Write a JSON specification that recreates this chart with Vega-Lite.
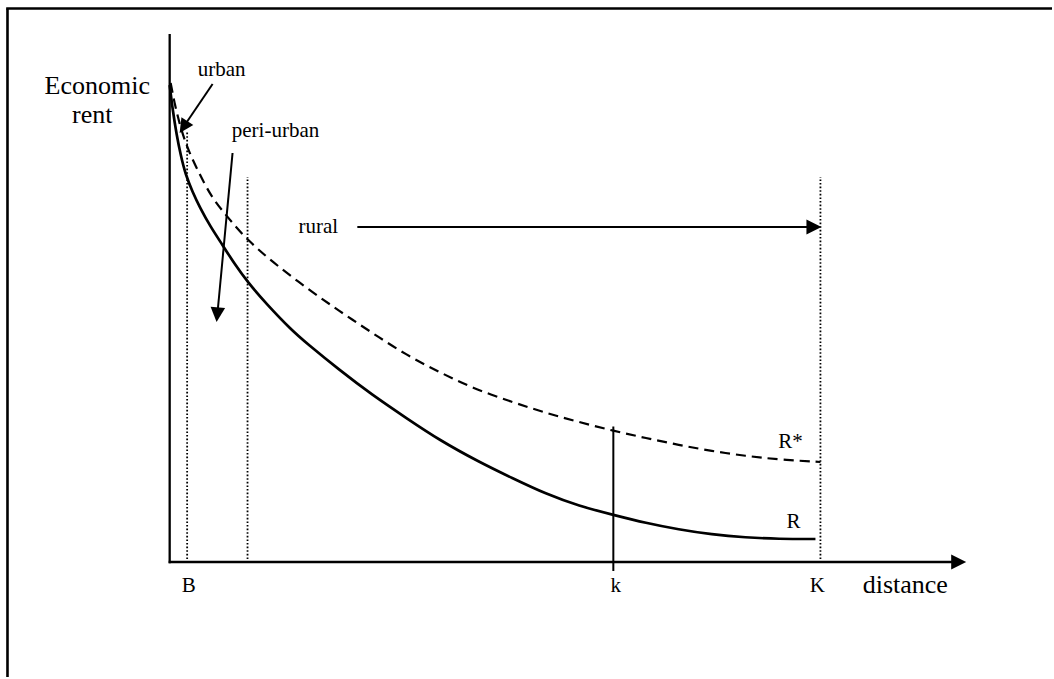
{
  "$schema": "https://vega.github.io/schema/vega-lite/v6.json",
  "width": 1054,
  "height": 679,
  "autosize": {"type": "fit", "contains": "padding"},
  "padding": 0,
  "background": "white",
  "config": {"view": {"stroke": null}},
  "datasets": {
    "frame": [
      {"x": -162.5, "y": -115, "x2": -162.5, "y2": 553.5},
      {"x": -163.8, "y": 553.5, "x2": 884, "y2": 553.5}
    ],
    "axes": [
      {"x": 0, "y": -1.2, "x2": 0, "y2": 528},
      {"x": -1, "y": 0, "x2": 786, "y2": 0}
    ],
    "dotted": [
      {"x": 17.5, "y": 3, "x2": 17.5, "y2": 430},
      {"x": 78, "y": 3, "x2": 78, "y2": 385},
      {"x": 652, "y": 3, "x2": 652, "y2": 385}
    ],
    "kline": [
      {"x": 444.5, "y": -9, "x2": 444.5, "y2": 135.5}
    ],
    "shafts": [
      {"x": 188, "y": 335, "x2": 641, "y2": 335},
      {"x": 43, "y": 478, "x2": 15.5, "y2": 437.5},
      {"x": 63, "y": 409, "x2": 48, "y2": 250}
    ],
    "headsH": [
      {"x": 798, "y": 0},
      {"x": 653, "y": 335}
    ],
    "headUrban": [{"x": 10, "y": 429}],
    "headPeri": [{"x": 47, "y": 240}],
    "curves": [
      {"series": "R", "d": 0, "rent": 477},
      {"series": "R", "d": 3, "rent": 452},
      {"series": "R", "d": 7, "rent": 427},
      {"series": "R", "d": 11, "rent": 407},
      {"series": "R", "d": 16, "rent": 387},
      {"series": "R", "d": 23, "rent": 370},
      {"series": "R", "d": 30, "rent": 355},
      {"series": "R", "d": 41, "rent": 335},
      {"series": "R", "d": 53, "rent": 317},
      {"series": "R", "d": 65, "rent": 298},
      {"series": "R", "d": 78, "rent": 280},
      {"series": "R", "d": 97, "rent": 258},
      {"series": "R", "d": 123, "rent": 231},
      {"series": "R", "d": 137, "rent": 219},
      {"series": "R", "d": 170, "rent": 192},
      {"series": "R", "d": 203, "rent": 167},
      {"series": "R", "d": 237, "rent": 144},
      {"series": "R", "d": 270, "rent": 122},
      {"series": "R", "d": 310, "rent": 100},
      {"series": "R", "d": 343, "rent": 84},
      {"series": "R", "d": 377, "rent": 68},
      {"series": "R", "d": 410, "rent": 56},
      {"series": "R", "d": 445, "rent": 47},
      {"series": "R", "d": 477, "rent": 39},
      {"series": "R", "d": 510, "rent": 32.5},
      {"series": "R", "d": 543, "rent": 27.5},
      {"series": "R", "d": 577, "rent": 24.5},
      {"series": "R", "d": 610, "rent": 23},
      {"series": "R", "d": 647, "rent": 23},
      {"series": "R*", "d": 1, "rent": 479},
      {"series": "R*", "d": 5, "rent": 458},
      {"series": "R*", "d": 10, "rent": 438},
      {"series": "R*", "d": 15, "rent": 422},
      {"series": "R*", "d": 20, "rent": 409},
      {"series": "R*", "d": 27, "rent": 394},
      {"series": "R*", "d": 35, "rent": 378},
      {"series": "R*", "d": 43, "rent": 364},
      {"series": "R*", "d": 53, "rent": 351},
      {"series": "R*", "d": 63, "rent": 339},
      {"series": "R*", "d": 78, "rent": 322},
      {"series": "R*", "d": 103, "rent": 300},
      {"series": "R*", "d": 137, "rent": 274},
      {"series": "R*", "d": 170, "rent": 251},
      {"series": "R*", "d": 203, "rent": 229},
      {"series": "R*", "d": 237, "rent": 207},
      {"series": "R*", "d": 270, "rent": 190},
      {"series": "R*", "d": 303, "rent": 174},
      {"series": "R*", "d": 343, "rent": 160},
      {"series": "R*", "d": 377, "rent": 149},
      {"series": "R*", "d": 410, "rent": 140},
      {"series": "R*", "d": 445, "rent": 131},
      {"series": "R*", "d": 477, "rent": 124},
      {"series": "R*", "d": 510, "rent": 117},
      {"series": "R*", "d": 543, "rent": 111},
      {"series": "R*", "d": 577, "rent": 106},
      {"series": "R*", "d": 610, "rent": 102.5},
      {"series": "R*", "d": 652, "rent": 100}
    ],
    "bigText": [
      {"label": "Economic", "x": -72.5, "y": 468},
      {"label": "rent", "x": -77.5, "y": 439},
      {"label": "distance", "x": 737, "y": -31}
    ],
    "smallText": [
      {"label": "urban", "x": 52, "y": 486},
      {"label": "peri-urban", "x": 106, "y": 425},
      {"label": "rural", "x": 149, "y": 329},
      {"label": "R*", "x": 622, "y": 114},
      {"label": "R", "x": 625, "y": 34},
      {"label": "B", "x": 19, "y": -30},
      {"label": "k", "x": 447, "y": -30},
      {"label": "K", "x": 649, "y": -30}
    ]
  },
  "layer": [
    {
      "data": {"name": "frame"},
      "mark": {"type": "rule", "color": "black", "strokeWidth": 2.6},
      "encoding": {
        "x": {"field": "x", "type": "quantitative", "scale": {"domain": [-170, 884], "nice": false, "zero": false}, "axis": null},
        "x2": {"field": "x2"},
        "y": {"field": "y", "type": "quantitative", "scale": {"domain": [-117, 562], "nice": false, "zero": false}, "axis": null},
        "y2": {"field": "y2"}
      }
    },
    {
      "data": {"name": "axes"},
      "mark": {"type": "rule", "color": "black", "strokeWidth": 2.3},
      "encoding": {
        "x": {"field": "x", "type": "quantitative", "scale": {"domain": [-170, 884], "nice": false, "zero": false}, "axis": null},
        "x2": {"field": "x2"},
        "y": {"field": "y", "type": "quantitative", "scale": {"domain": [-117, 562], "nice": false, "zero": false}, "axis": null},
        "y2": {"field": "y2"}
      }
    },
    {
      "data": {"name": "dotted"},
      "mark": {"type": "rule", "color": "black", "strokeWidth": 1.8, "strokeDash": [1.6, 2]},
      "encoding": {
        "x": {"field": "x", "type": "quantitative", "scale": {"domain": [-170, 884], "nice": false, "zero": false}, "axis": null},
        "x2": {"field": "x2"},
        "y": {"field": "y", "type": "quantitative", "scale": {"domain": [-117, 562], "nice": false, "zero": false}, "axis": null},
        "y2": {"field": "y2"}
      }
    },
    {
      "data": {"name": "kline"},
      "mark": {"type": "rule", "color": "black", "strokeWidth": 2},
      "encoding": {
        "x": {"field": "x", "type": "quantitative", "scale": {"domain": [-170, 884], "nice": false, "zero": false}, "axis": null},
        "x2": {"field": "x2"},
        "y": {"field": "y", "type": "quantitative", "scale": {"domain": [-117, 562], "nice": false, "zero": false}, "axis": null},
        "y2": {"field": "y2"}
      }
    },
    {
      "data": {"name": "curves"},
      "transform": [{"filter": "datum.series === 'R'"}],
      "mark": {"type": "line", "color": "black", "strokeWidth": 2.7, "interpolate": "basis"},
      "encoding": {
        "x": {"field": "d", "type": "quantitative", "scale": {"domain": [-170, 884], "nice": false, "zero": false}, "axis": null},
        "y": {"field": "rent", "type": "quantitative", "scale": {"domain": [-117, 562], "nice": false, "zero": false}, "axis": null}
      }
    },
    {
      "data": {"name": "curves"},
      "transform": [{"filter": "datum.series === 'R*'"}],
      "mark": {"type": "line", "color": "black", "strokeWidth": 2.2, "strokeDash": [10, 6], "interpolate": "basis"},
      "encoding": {
        "x": {"field": "d", "type": "quantitative", "scale": {"domain": [-170, 884], "nice": false, "zero": false}, "axis": null},
        "y": {"field": "rent", "type": "quantitative", "scale": {"domain": [-117, 562], "nice": false, "zero": false}, "axis": null}
      }
    },
    {
      "data": {"name": "shafts"},
      "mark": {"type": "rule", "color": "black", "strokeWidth": 2},
      "encoding": {
        "x": {"field": "x", "type": "quantitative", "scale": {"domain": [-170, 884], "nice": false, "zero": false}, "axis": null},
        "x2": {"field": "x2"},
        "y": {"field": "y", "type": "quantitative", "scale": {"domain": [-117, 562], "nice": false, "zero": false}, "axis": null},
        "y2": {"field": "y2"}
      }
    },
    {
      "data": {"name": "headsH"},
      "mark": {"type": "point", "shape": "M0,0L-1,-0.5L-1,0.5Z", "filled": true, "color": "black", "opacity": 1, "size": 900, "strokeWidth": 0},
      "encoding": {
        "x": {"field": "x", "type": "quantitative", "scale": {"domain": [-170, 884], "nice": false, "zero": false}, "axis": null},
        "y": {"field": "y", "type": "quantitative", "scale": {"domain": [-117, 562], "nice": false, "zero": false}, "axis": null}
      }
    },
    {
      "data": {"name": "headUrban"},
      "mark": {"type": "point", "shape": "M0,0L-1,-0.5L-1,0.5Z", "filled": true, "color": "black", "opacity": 1, "size": 800, "strokeWidth": 0, "angle": 123},
      "encoding": {
        "x": {"field": "x", "type": "quantitative", "scale": {"domain": [-170, 884], "nice": false, "zero": false}, "axis": null},
        "y": {"field": "y", "type": "quantitative", "scale": {"domain": [-117, 562], "nice": false, "zero": false}, "axis": null}
      }
    },
    {
      "data": {"name": "headPeri"},
      "mark": {"type": "point", "shape": "M0,0L-1,-0.5L-1,0.5Z", "filled": true, "color": "black", "opacity": 1, "size": 850, "strokeWidth": 0, "angle": 95},
      "encoding": {
        "x": {"field": "x", "type": "quantitative", "scale": {"domain": [-170, 884], "nice": false, "zero": false}, "axis": null},
        "y": {"field": "y", "type": "quantitative", "scale": {"domain": [-117, 562], "nice": false, "zero": false}, "axis": null}
      }
    },
    {
      "data": {"name": "bigText"},
      "mark": {"type": "text", "font": "Liberation Serif", "fontSize": 26, "color": "black", "align": "center", "baseline": "alphabetic"},
      "encoding": {
        "x": {"field": "x", "type": "quantitative", "scale": {"domain": [-170, 884], "nice": false, "zero": false}, "axis": null},
        "y": {"field": "y", "type": "quantitative", "scale": {"domain": [-117, 562], "nice": false, "zero": false}, "axis": null},
        "text": {"field": "label"}
      }
    },
    {
      "data": {"name": "smallText"},
      "mark": {"type": "text", "font": "Liberation Serif", "fontSize": 21, "color": "black", "align": "center", "baseline": "alphabetic"},
      "encoding": {
        "x": {"field": "x", "type": "quantitative", "scale": {"domain": [-170, 884], "nice": false, "zero": false}, "axis": null},
        "y": {"field": "y", "type": "quantitative", "scale": {"domain": [-117, 562], "nice": false, "zero": false}, "axis": null},
        "text": {"field": "label"}
      }
    }
  ]
}
